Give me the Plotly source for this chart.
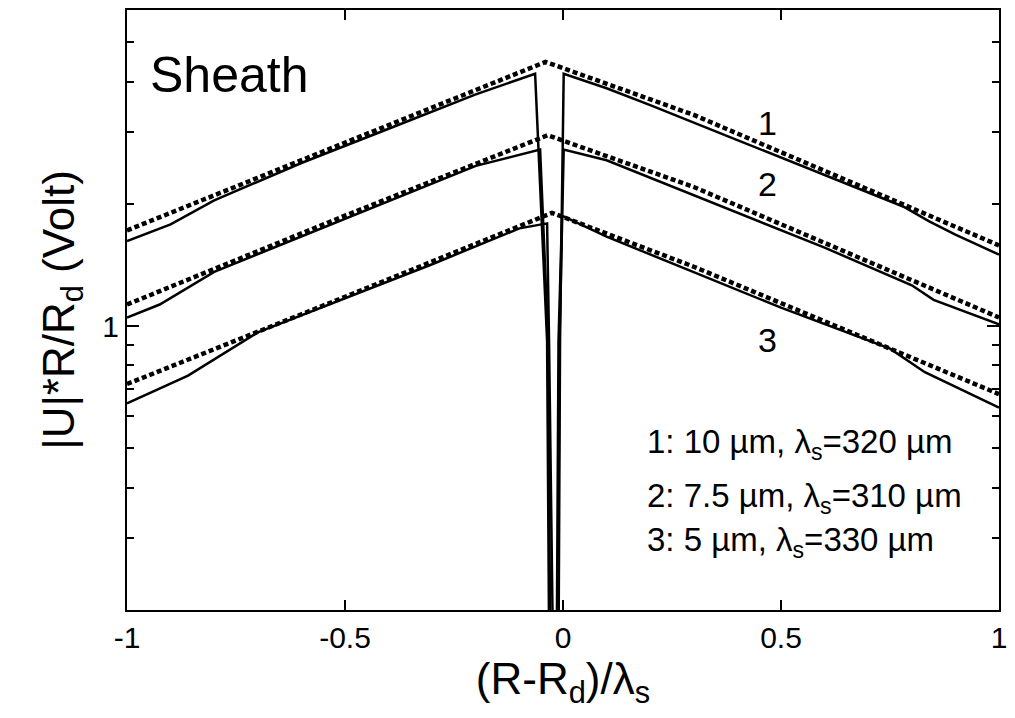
import math
import plotly.graph_objects as go

# ---- data ----
# dashed curves (theory), straight in semi-log
dash_x = [[-1.0, -0.5, -0.04, 0.3, 1.0],
          [-1.0, -0.5, -0.035, 0.3, 1.0],
          [-1.0, -0.5, -0.025, 0.3, 1.0]]
dash_y = [[1.72, 2.82, 4.47, 3.31, 1.58],
          [1.13, 1.87, 2.95, 2.20, 1.05],
          [0.72, 1.18, 1.90, 1.40, 0.68]]

# solid curves (simulation)
solid_x = [
    [-1.0, -0.90, -0.80, -0.60, -0.40, -0.20, -0.064, -0.0365, -0.0285, -0.0125, -0.0068, 0.0016,
     0.10, 0.20, 0.40, 0.60, 0.78, 0.84, 0.90, 1.0],
    [-1.0, -0.925, -0.80, -0.60, -0.40, -0.20, -0.0525, -0.034, -0.026, -0.0148, -0.008, 0.0016,
     0.10, 0.20, 0.40, 0.60, 0.80, 0.85, 1.0],
    [-1.0, -0.86, -0.70, -0.50, -0.30, -0.10, -0.0365, -0.032, -0.024, -0.017, -0.0103, -0.0023,
     0.10, 0.30, 0.50, 0.75, 0.83, 1.0],
]
solid_y = [
    [1.62, 1.78, 2.04, 2.52, 3.06, 3.72, 4.18, 0.92, 0.05, 0.05, 0.92, 4.18,
     3.85, 3.50, 2.87, 2.35, 1.97, 1.81, 1.68, 1.50],
    [1.05, 1.13, 1.36, 1.66, 2.03, 2.48, 2.72, 0.92, 0.05, 0.05, 0.92, 2.72,
     2.56, 2.32, 1.90, 1.56, 1.26, 1.16, 1.01],
    [0.645, 0.755, 0.965, 1.17, 1.42, 1.74, 1.79, 0.92, 0.05, 0.05, 0.92, 1.87,
     1.66, 1.36, 1.11, 0.88, 0.77, 0.63],
]

x_ticks = [-1, -0.5, 0, 0.5, 1]
x_ticktext = ["-1", "-0.5", "0", "0.5", "1"]
y_major = [1]
y_minor = [0.3, 0.4, 0.5, 0.6, 0.7, 0.8, 0.9, 2, 3, 4, 5]

curve_labels = ["1", "2", "3"]
curve_label_pos = [(0.47, 3.16), (0.47, 2.24), (0.47, 0.925)]
legend_lines = ["1: 10 µm, λ<sub>s</sub>=320 µm",
                "2: 7.5 µm, λ<sub>s</sub>=310 µm",
                "3: 5 µm, λ<sub>s</sub>=330 µm"]
legend_ypos = [0.277, 0.186, 0.114]

FONT = "Liberation Sans, Arial, sans-serif"

fig = go.Figure()
for xs, ys in zip(solid_x, solid_y):
    fig.add_trace(go.Scatter(x=xs, y=ys, mode="lines",
                             line=dict(color="black", width=2.5),
                             showlegend=False, hoverinfo="skip"))
for xs, ys in zip(dash_x, dash_y):
    fig.add_trace(go.Scatter(x=xs, y=ys, mode="lines",
                             line=dict(color="black", width=4.5, dash="5px,3px"),
                             showlegend=False, hoverinfo="skip"))

annotations = []
for lab, (ax_, ay_) in zip(curve_labels, curve_label_pos):
    annotations.append(dict(x=ax_, y=math.log10(ay_), xref="x", yref="y",
                            text=lab, showarrow=False,
                            font=dict(family=FONT, size=34, color="black")))
annotations.append(dict(x=0.024, y=0.892, xref="paper", yref="paper", text="Sheath",
                        showarrow=False, xanchor="left", yanchor="middle",
                        font=dict(family=FONT, size=50, color="black")))
for t, yp in zip(legend_lines, legend_ypos):
    annotations.append(dict(x=0.594, y=yp, xref="paper", yref="paper",
                            text=t, showarrow=False, xanchor="left", yanchor="middle",
                            font=dict(family=FONT, size=33, color="black")))

fig.update_layout(
    width=1015, height=718,
    margin=dict(l=127, r=10, t=8, b=108),
    plot_bgcolor="white", paper_bgcolor="white",
    font=dict(family=FONT, size=30, color="black"),
    annotations=annotations,
    xaxis=dict(range=[-1, 1], tickvals=x_ticks, ticktext=x_ticktext,
               ticks="inside", ticklen=10, tickwidth=1.5, tickcolor="black",
               showline=True, linecolor="black", linewidth=2, mirror="ticks",
               showgrid=False, zeroline=False,
               tickfont=dict(family=FONT, size=30),
               title=dict(text="(R-R<sub>d</sub>)/λ<sub>s</sub>",
                          font=dict(family=FONT, size=44), standoff=4)),
    yaxis=dict(type="log", range=[-0.69897, 0.778151],
               tickvals=y_major, ticktext=["1"],
               ticks="inside", ticklen=12, tickwidth=1.5, tickcolor="black",
               minor=dict(tickmode="array", tickvals=y_minor, ticks="inside",
                          ticklen=7, tickwidth=1.5, tickcolor="black", showgrid=False),
               showline=True, linecolor="black", linewidth=2, mirror="ticks",
               showgrid=False, zeroline=False,
               tickfont=dict(family=FONT, size=30),
               title=dict(text="|U|*R/R<sub>d</sub> (Volt)",
                          font=dict(family=FONT, size=44), standoff=14)),
)

fig.write_html("out.html")
